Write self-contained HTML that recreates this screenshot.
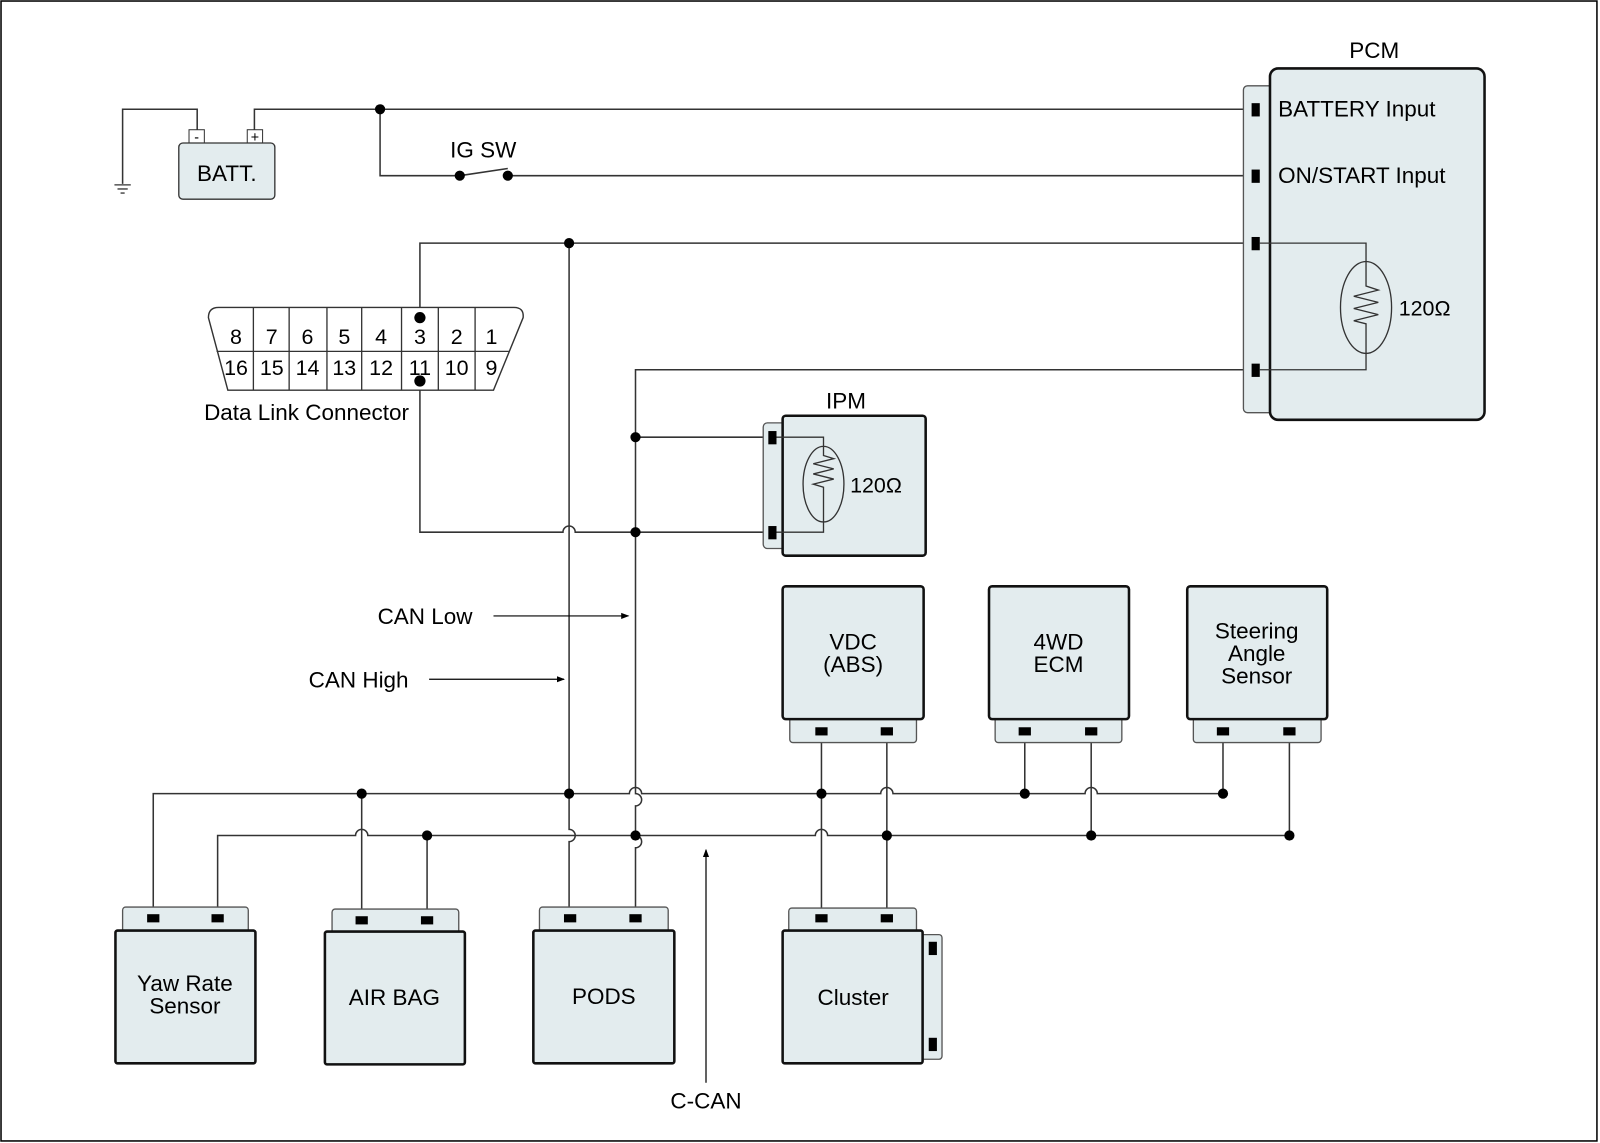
<!DOCTYPE html>
<html><head><meta charset="utf-8"><style>html,body{margin:0;padding:0;background:#fff}svg{display:block}</style></head>
<body>
<svg width="1600" height="1143" viewBox="0 0 1566 1119" preserveAspectRatio="none" xmlns="http://www.w3.org/2000/svg" font-family="Liberation Sans, Arial, sans-serif">
<defs>
<marker id="ah" markerWidth="8" markerHeight="8" refX="7" refY="4" orient="auto" markerUnits="userSpaceOnUse"><path d="M0,1 L8,4 L0,7 Z" fill="#000"/></marker>
</defs>
<rect x="1" y="1" width="1562" height="1116" fill="#fff" stroke="#000" stroke-width="1.5"/>
<g fill="none" stroke="#333" stroke-width="1.5">
<path d="M193,128 V107 H120 V180"/>
<path d="M249,128 V107 H1228"/>
<path d="M372,107 V172 H450 L497,165"/>
<path d="M497,172 H1228"/>
<path d="M411,311 V238 H1228"/>
<path d="M622,895 V830 a6,6 0 0 0 0,-12 V789 a6,6 0 0 0 0,-12 V362 H1228"/>
<path d="M557,238 V812 a6,6 0 0 1 0,12 V895"/>
<path d="M411,373 V521 H551 a6,6 0 0 1 12,0 H750"/>
<path d="M622,428 H750"/>
<path d="M150,898 V777 H616 a6,6 0 0 1 12,0 H862 a6,6 0 0 1 12,0 H1062 a6,6 0 0 1 12,0 H1197 V716"/>
<path d="M213,898 V818 H348 a6,6 0 0 1 12,0 H798 a6,6 0 0 1 12,0 H1262 V716"/>
<path d="M354,777 V900"/><path d="M418,818 V900"/>
<path d="M804,716 V898"/><path d="M868,716 V898"/>
<path d="M1003,716 V777"/><path d="M1068,716 V818"/>
</g>
<g stroke="#333" stroke-width="1.3"><line x1="112" y1="181" x2="128" y2="181"/><line x1="115" y1="185" x2="125" y2="185"/><line x1="118" y1="189" x2="122" y2="189"/></g>
<rect x="185" y="127" width="15" height="14" fill="#fff" stroke="#333"/>
<rect x="242" y="127" width="15" height="14" fill="#fff" stroke="#333"/>
<text x="192.5" y="139" font-size="14" text-anchor="middle">-</text>
<text x="249.5" y="139" font-size="14" text-anchor="middle">+</text>
<rect x="175" y="140" width="94" height="55" rx="4" fill="#e3ecee" stroke="#333" stroke-width="1.3"/>
<text x="222" y="177" font-size="22" text-anchor="middle">BATT.</text>
<text x="473" y="154" font-size="22" text-anchor="middle">IG SW</text>
<g fill="#000">
<circle cx="372" cy="107" r="5"/><circle cx="450" cy="172" r="5"/><circle cx="497" cy="172" r="5"/>
<circle cx="557" cy="238" r="5"/>
<circle cx="622" cy="428" r="5"/><circle cx="622" cy="521" r="5"/>
<circle cx="354" cy="777" r="5"/><circle cx="557" cy="777" r="5"/><circle cx="804" cy="777" r="5"/><circle cx="1003" cy="777" r="5"/><circle cx="1197" cy="777" r="5"/>
<circle cx="418" cy="818" r="5"/><circle cx="622" cy="818" r="5"/><circle cx="868" cy="818" r="5"/><circle cx="1068" cy="818" r="5"/><circle cx="1262" cy="818" r="5"/>
</g>
<!-- PCM -->
<rect x="1217" y="84" width="30" height="320" rx="4" fill="#e3ecee" stroke="#555" stroke-width="1.3"/>
<rect x="1243" y="67" width="210" height="344" rx="8" fill="#e3ecee" stroke="#111" stroke-width="2.5"/>
<g fill="#000"><rect x="1225" y="101" width="8" height="13"/><rect x="1225" y="166" width="8" height="13"/><rect x="1225" y="232" width="8" height="13"/><rect x="1225" y="356" width="8" height="13"/></g>
<path d="M1233,238 H1337 V256 M1337,346 V362 H1233" fill="none" stroke="#333" stroke-width="1.3"/>
<ellipse cx="1337" cy="301" rx="25" ry="45" fill="none" stroke="#333" stroke-width="1.3"/>
<path d="M1337,256 V280 l12,4 l-24,6 l24,6 l-24,6 l24,6 l-24,6 l12,3 V346" fill="none" stroke="#333" stroke-width="1.3"/>
<text x="1345" y="57" font-size="22" text-anchor="middle">PCM</text>
<text x="1251" y="114" font-size="22">BATTERY Input</text>
<text x="1251" y="179" font-size="22">ON/START Input</text>
<text x="1369" y="309" font-size="21">120Ω</text>
<!-- DLC -->
<path d="M214,301 H503 Q513,301 512,311 L483,382 H223 L204,311 Q204,301 214,301 Z" fill="#fff" stroke="#333" stroke-width="1.4"/>
<g stroke="#333" stroke-width="1.3"><line x1="212" y1="344" x2="498" y2="344"/>
<line x1="248" y1="301" x2="248" y2="382"/><line x1="283" y1="301" x2="283" y2="382"/><line x1="320" y1="301" x2="320" y2="382"/><line x1="354" y1="301" x2="354" y2="382"/><line x1="393" y1="301" x2="393" y2="382"/><line x1="429" y1="301" x2="429" y2="382"/><line x1="465" y1="301" x2="465" y2="382"/></g>
<g font-size="21" text-anchor="middle">
<text x="231" y="337">8</text><text x="266" y="337">7</text><text x="301" y="337">6</text><text x="337" y="337">5</text><text x="373" y="337">4</text><text x="411" y="337">3</text><text x="447" y="337">2</text><text x="481" y="337">1</text>
<text x="231" y="367">16</text><text x="266" y="367">15</text><text x="301" y="367">14</text><text x="337" y="367">13</text><text x="373" y="367">12</text><text x="411" y="367">11</text><text x="447" y="367">10</text><text x="481" y="367">9</text>
</g>
<circle cx="411" cy="311" r="5.5"/><circle cx="411" cy="373" r="5.5"/>
<text x="300" y="411" font-size="22" text-anchor="middle">Data Link Connector</text>
<!-- IPM -->
<rect x="747" y="414" width="24" height="123" rx="4" fill="#e3ecee" stroke="#555" stroke-width="1.3"/>
<rect x="766" y="407" width="140" height="137" rx="3" fill="#e3ecee" stroke="#111" stroke-width="2.5"/>
<g fill="#000"><rect x="752" y="422" width="8" height="13"/><rect x="752" y="515" width="8" height="13"/></g>
<path d="M760,428 H806 V446 l10,3 l-20,5 l20,5 l-20,5 l20,5 l-20,5 l10,3 V521 H760" fill="none" stroke="#333" stroke-width="1.3"/>
<ellipse cx="806" cy="474" rx="20" ry="37" fill="none" stroke="#333" stroke-width="1.3"/>
<text x="828" y="400" font-size="22" text-anchor="middle">IPM</text>
<text x="832" y="482" font-size="21">120Ω</text>
<text x="416" y="611" font-size="22" text-anchor="middle">CAN Low</text>
<line x1="483" y1="603" x2="615" y2="603" stroke="#000" stroke-width="1.2" marker-end="url(#ah)"/>
<text x="351" y="673" font-size="22" text-anchor="middle">CAN High</text>
<line x1="420" y1="665" x2="552" y2="665" stroke="#000" stroke-width="1.2" marker-end="url(#ah)"/>
<line x1="691" y1="1060" x2="691" y2="832" stroke="#000" stroke-width="1.2" marker-end="url(#ah)"/>
<text x="691" y="1085" font-size="22" text-anchor="middle">C-CAN</text>
<g stroke-width="1.3">
<rect x="773" y="700" width="124" height="27" rx="3" fill="#e3ecee" stroke="#555"/>
<rect x="974" y="700" width="124" height="27" rx="3" fill="#e3ecee" stroke="#555"/>
<rect x="1168" y="700" width="125" height="27" rx="3" fill="#e3ecee" stroke="#555"/>
</g>
<g fill="#e3ecee" stroke="#111" stroke-width="2.5">
<rect x="766" y="574" width="138" height="130" rx="3"/>
<rect x="968" y="574" width="137" height="130" rx="3"/>
<rect x="1162" y="574" width="137" height="130" rx="3"/>
</g>
<g fill="#000"><rect x="798" y="712" width="12" height="8"/><rect x="862" y="712" width="12" height="8"/><rect x="997" y="712" width="12" height="8"/><rect x="1062" y="712" width="12" height="8"/><rect x="1191" y="712" width="12" height="8"/><rect x="1256" y="712" width="12" height="8"/></g>
<g font-size="22" text-anchor="middle">
<text x="835" y="636">VDC</text><text x="835" y="658">(ABS)</text>
<text x="1036" y="636">4WD</text><text x="1036" y="658">ECM</text>
<text x="1230" y="625">Steering</text><text x="1230" y="647">Angle</text><text x="1230" y="669">Sensor</text>
</g>
<g stroke-width="1.3" fill="#e3ecee" stroke="#555">
<rect x="120" y="888" width="123" height="27" rx="3"/>
<rect x="325" y="890" width="124" height="27" rx="3"/>
<rect x="528" y="888" width="126" height="27" rx="3"/>
<rect x="772" y="889" width="125" height="27" rx="3"/>
<rect x="898" y="915" width="24" height="122" rx="3"/>
</g>
<g fill="#e3ecee" stroke="#111" stroke-width="2.5">
<rect x="113" y="911" width="137" height="130" rx="2"/>
<rect x="318" y="912" width="137" height="130" rx="2"/>
<rect x="522" y="911" width="138" height="130" rx="2"/>
<rect x="766" y="911" width="137" height="130" rx="2"/>
</g>
<g fill="#000">
<rect x="144" y="895" width="12" height="8"/><rect x="207" y="895" width="12" height="8"/>
<rect x="348" y="897" width="12" height="8"/><rect x="412" y="897" width="12" height="8"/>
<rect x="552" y="895" width="12" height="8"/><rect x="616" y="895" width="12" height="8"/>
<rect x="798" y="895" width="12" height="8"/><rect x="862" y="895" width="12" height="8"/>
<rect x="909" y="922" width="8" height="13"/><rect x="909" y="1016" width="8" height="13"/>
</g>
<g font-size="22" text-anchor="middle">
<text x="181" y="970">Yaw Rate</text><text x="181" y="992">Sensor</text>
<text x="386" y="984">AIR BAG</text>
<text x="591" y="983">PODS</text>
<text x="835" y="984">Cluster</text>
</g>
</svg>
</body></html>
